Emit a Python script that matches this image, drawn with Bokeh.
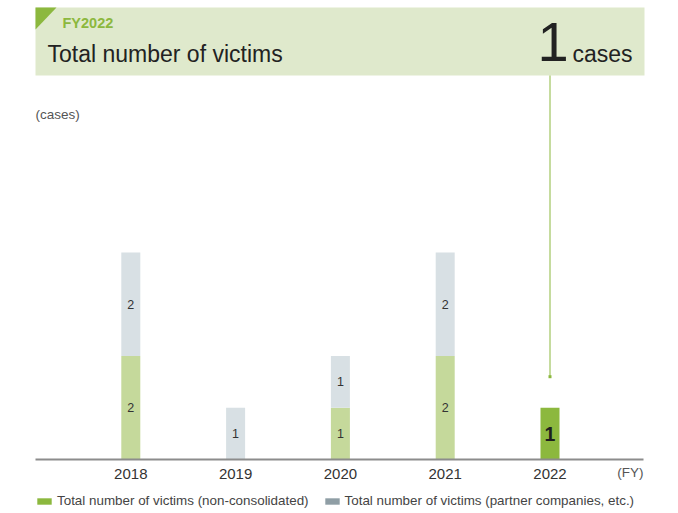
from bokeh.plotting import figure
from bokeh.models import (Range1d, LinearAxis, FixedTicker, Legend, LegendItem,
                          ColumnDataSource)
from bokeh.core.properties import value
from bokeh.embed import file_html
from bokeh.resources import INLINE

# ---------------- data ----------------
years = [2018, 2019, 2020, 2021, 2022]
year_labels = ["2018", "2019", "2020", "2021", "2022"]
non_consolidated = [2, 0, 1, 2, 1]
partner = [2, 1, 1, 2, 0]
highlight_year = 2022
connector_value = 1.6
header_fy = "FY2022"
header_title = "Total number of victims"
header_value = "1"
header_unit = "cases"
y_unit_label = "(cases)"
x_unit_label = "(FY)"
legend_labels = ["Total number of victims (non-consolidated)",
                 "Total number of victims (partner companies, etc.)"]

# ---------------- styles ----------------
FONT = "Liberation Sans"
C_GREEN_LIGHT = "#c5d99b"
C_GREEN_DARK = "#8cb83e"
C_GRAY_LIGHT = "#d8e0e4"
C_GRAY_LEGEND = "#8f9ea5"
C_HEADER = "#dfe9cc"
C_TEXT = "#222222"

W, H = 670, 510
PX_YEAR = 104.8
X0_PX = 130.3
PX_UNIT = 51.75
Y0_PX = 459.0

x_start = 2018 - X0_PX / PX_YEAR
x_end = 2018 + (W - X0_PX) / PX_YEAR
y_end = Y0_PX / PX_UNIT
y_start = -(H - Y0_PX) / PX_UNIT


def X(px):
    return x_start + px / PX_YEAR


def Y(py):
    return (Y0_PX - py) / PX_UNIT


p = figure(width=W, height=H, output_backend="svg", toolbar_location=None,
           x_range=Range1d(x_start, x_end), y_range=Range1d(y_start, y_end),
           x_axis_location=None, y_axis_location=None, min_border=0,
           background_fill_color="white", border_fill_color="white")
p.outline_line_color = None
p.grid.visible = False

# ---------------- header ----------------
p.quad(left=[X(35)], right=[X(644)], top=[Y(7)], bottom=[Y(75)],
       fill_color=C_HEADER, line_color=None)
p.patch(x=[X(35), X(56), X(35)], y=[Y(7), Y(7), Y(29)],
        fill_color=C_GREEN_DARK, line_color=None)
p.text(x=[X(62)], y=[Y(22.5)], text=[header_fy], text_font=value(FONT),
       text_font_size="14.5px", text_font_style="bold", text_color=C_GREEN_DARK,
       text_baseline="middle", text_align="left")
p.text(x=[X(47)], y=[Y(53)], text=[header_title], text_font=value(FONT),
       text_font_size="23px", text_color=C_TEXT,
       text_baseline="middle", text_align="left")
p.text(x=[X(537)], y=[Y(41)], text=[header_value], text_font=value(FONT),
       text_font_size="56px", text_color=C_TEXT,
       text_baseline="middle", text_align="left")
p.text(x=[X(572)], y=[Y(53)], text=[header_unit], text_font=value(FONT),
       text_font_size="23px", text_color=C_TEXT,
       text_baseline="middle", text_align="left")

# connector from highlighted bar to header
p.segment(x0=[highlight_year], y0=[connector_value], x1=[highlight_year], y1=[Y(75)],
          line_color=C_GREEN_DARK, line_width=1)
p.scatter(x=[highlight_year], y=[connector_value], marker="square", size=3,
          fill_color=C_GREEN_DARK, line_color=None)

# unit labels
p.text(x=[X(35)], y=[Y(113.5)], text=[y_unit_label], text_font=value(FONT),
       text_font_size="13.5px", text_color="#555555",
       text_baseline="middle", text_align="left")
p.text(x=[X(643)], y=[Y(472)], text=[x_unit_label], text_font=value(FONT),
       text_font_size="13.5px", text_color="#555555",
       text_baseline="middle", text_align="right")

# ---------------- bars ----------------
bar_w = 19 / PX_YEAR
g_colors = [C_GREEN_DARK if y == highlight_year else C_GREEN_LIGHT for y in years]
src = ColumnDataSource(dict(
    x=years,
    g_top=non_consolidated,
    p_bottom=non_consolidated,
    p_top=[a + b for a, b in zip(non_consolidated, partner)],
    g_color=g_colors,
))
p.vbar(x="x", bottom=0, top="g_top", width=bar_w, fill_color="g_color",
       line_color=None, source=src)
p.vbar(x="x", bottom="p_bottom", top="p_top", width=bar_w, fill_color=C_GRAY_LIGHT,
       line_color=None, source=src)

# segment labels
lx, ly, lt = [], [], []
hx, hy, ht = [], [], []
for yr, a, b in zip(years, non_consolidated, partner):
    if a > 0:
        if yr == highlight_year:
            hx.append(yr); hy.append(a / 2); ht.append(str(a))
        else:
            lx.append(yr); ly.append(a / 2); lt.append(str(a))
    if b > 0:
        lx.append(yr); ly.append(a + b / 2); lt.append(str(b))
p.text(x=lx, y=ly, text=lt, text_font=value(FONT), text_font_size="12.5px",
       text_color="#333333", text_align="center", text_baseline="middle")
p.text(x=hx, y=hy, text=ht, text_font=value(FONT), text_font_size="19.5px",
       text_font_style="bold", text_color="#1e1e1e", text_align="center",
       text_baseline="middle")

# ---------------- axis ----------------
xaxis = LinearAxis(fixed_location=0, ticker=FixedTicker(ticks=years),
                   major_label_overrides={y: l for y, l in zip(years, year_labels)})
xaxis.bounds = (X(35), X(643))
xaxis.axis_line_color = "#8c8c8c"
xaxis.axis_line_width = 2
xaxis.major_tick_line_color = None
xaxis.minor_tick_line_color = None
xaxis.major_tick_out = 0
xaxis.major_tick_in = 0
xaxis.major_label_standoff = 9
xaxis.major_label_text_font = FONT
xaxis.major_label_text_font_size = "15px"
xaxis.major_label_text_color = "#333333"
p.add_layout(xaxis, "below")

# ---------------- legend (zero-height proxy bars carry the legend colours) ----
leg_src = ColumnDataSource(dict(x=[years[0]], top=[0], bottom=[0]))
r_leg1 = p.vbar(x="x", top="top", bottom="bottom", width=bar_w,
                fill_color=C_GREEN_DARK, line_color=None, source=leg_src)
r_leg2 = p.vbar(x="x", top="top", bottom="bottom", width=bar_w,
                fill_color=C_GRAY_LEGEND, line_color=None, source=leg_src)
legend = Legend(items=[LegendItem(label=legend_labels[0], renderers=[r_leg1]),
                       LegendItem(label=legend_labels[1], renderers=[r_leg2])],
                orientation="horizontal", location=(35, 2),
                glyph_width=18, glyph_height=8, label_standoff=4, spacing=14,
                padding=0, margin=0, border_line_color=None,
                background_fill_alpha=0, label_text_font=FONT,
                label_text_font_size="13.4px", label_text_color="#444444",
                label_height=12)
p.add_layout(legend)

open("out.html", "w").write(file_html(p, INLINE))
